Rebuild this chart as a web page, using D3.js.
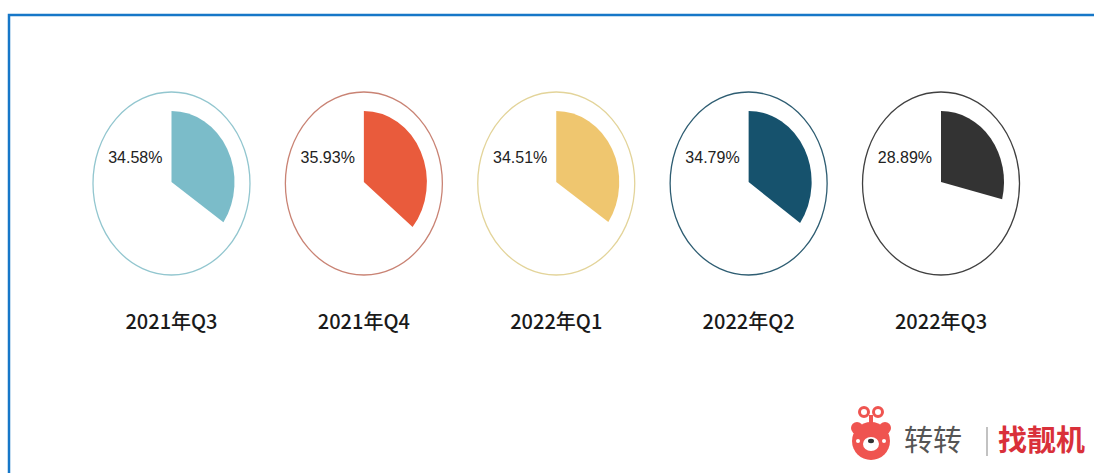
<!DOCTYPE html>
<html>
<head>
<meta charset="utf-8">
<script src="https://cdn.jsdelivr.net/npm/d3@7"></script>
<style>
  body { margin: 0; background: #fff; }
  svg { display: block; }
</style>
</head>
<body>
<svg id="chart" width="1094" height="473"></svg>
<script>
const quarters = ["2021年Q3", "2021年Q4", "2022年Q1", "2022年Q2", "2022年Q3"];
const shares = [34.58, 35.93, 34.51, 34.79, 28.89];
const fillColors = ["#7bbcc9", "#e95b3c", "#efc66f", "#16526d", "#333333"];
const ringColors = ["#92c6cf", "#c98374", "#e3d49a", "#2e5d72", "#404040"];

const svg = d3.select("#chart");

// blue frame
svg.append("rect")
    .attr("x", 9).attr("y", 15)
    .attr("width", 1100).attr("height", 480)
    .attr("fill", "none")
    .attr("stroke", "#1677c8")
    .attr("stroke-width", 2.5);

const x = d3.scaleBand().domain(quarters).range([75.3, 1037.2]);
const angle = d3.scaleLinear().domain([0, 100]).range([0, 2 * Math.PI]);

const ringRx = 78.5, ringRy = 91.5, ringCy = 183.5;
const sliceRx = 63, sliceRy = 71, sliceCy = 182;

const arc = d3.arc().innerRadius(0).outerRadius(sliceRx);

const g = svg.append("g")
    .selectAll("g")
    .data(quarters)
    .enter().append("g")
    .attr("transform", d => `translate(${x(d) + x.bandwidth() / 2},0)`);

g.append("ellipse")
    .attr("cx", 0).attr("cy", ringCy)
    .attr("rx", ringRx).attr("ry", ringRy)
    .attr("fill", "none")
    .attr("stroke", (d, i) => ringColors[i])
    .attr("stroke-width", 1.3);

g.append("path")
    .attr("transform", `translate(0,${sliceCy}) scale(1,${sliceRy / sliceRx})`)
    .attr("d", (d, i) => arc({ startAngle: 0, endAngle: angle(shares[i]) }))
    .attr("fill", (d, i) => fillColors[i]);

g.append("text")
    .attr("x", -9).attr("y", 163)
    .attr("text-anchor", "end")
    .attr("font-family", "Liberation Sans, Arial, sans-serif")
    .attr("font-size", 16)
    .attr("fill", "#222")
    .text((d, i) => shares[i].toFixed(2) + "%");

g.append("text")
    .attr("x", 0).attr("y", 329)
    .attr("text-anchor", "middle")
    .attr("font-family", "Noto Sans CJK SC, sans-serif")
    .attr("font-size", 20)
    .attr("font-weight", 500)
    .attr("fill", "#1a1a1a")
    .text(d => d);

// logo
const logo = svg.append("g").attr("transform", "translate(871,441)");
logo.append("circle").attr("cx", -7).attr("cy", -29).attr("r", 4.5)
    .attr("fill", "none").attr("stroke", "#ef5450").attr("stroke-width", 3);
logo.append("circle").attr("cx", 7).attr("cy", -29).attr("r", 4.5)
    .attr("fill", "none").attr("stroke", "#ef5450").attr("stroke-width", 3);
logo.append("rect").attr("x", -2).attr("y", -26).attr("width", 4).attr("height", 8).attr("fill", "#ef5450");
logo.append("circle").attr("cx", -14).attr("cy", -13).attr("r", 6).attr("fill", "#ef5450");
logo.append("circle").attr("cx", 14).attr("cy", -13).attr("r", 6).attr("fill", "#ef5450");
logo.append("circle").attr("r", 19).attr("fill", "#ef5450");
logo.append("ellipse").attr("cx", 0).attr("cy", 3).attr("rx", 8).attr("ry", 7).attr("fill", "#fff");
logo.append("ellipse").attr("cx", 0).attr("cy", 0).attr("rx", 3).attr("ry", 2.2).attr("fill", "#333");
logo.append("circle").attr("cx", -13).attr("cy", 0).attr("r", 2).attr("fill", "#fff");
logo.append("circle").attr("cx", 13).attr("cy", 0).attr("r", 2).attr("fill", "#fff");

svg.append("text")
    .attr("x", 904).attr("y", 451)
    .attr("font-family", "Noto Sans CJK SC, sans-serif")
    .attr("font-size", 29)
    .attr("fill", "#555")
    .text("转转");
svg.append("line")
    .attr("x1", 987).attr("x2", 987).attr("y1", 427).attr("y2", 456)
    .attr("stroke", "#999").attr("stroke-width", 1.2);
svg.append("text")
    .attr("x", 998).attr("y", 451)
    .attr("font-family", "Noto Sans CJK SC, sans-serif")
    .attr("font-size", 29)
    .attr("font-weight", 700)
    .attr("fill", "#d9303a")
    .text("找靓机");
</script>
</body>
</html>
